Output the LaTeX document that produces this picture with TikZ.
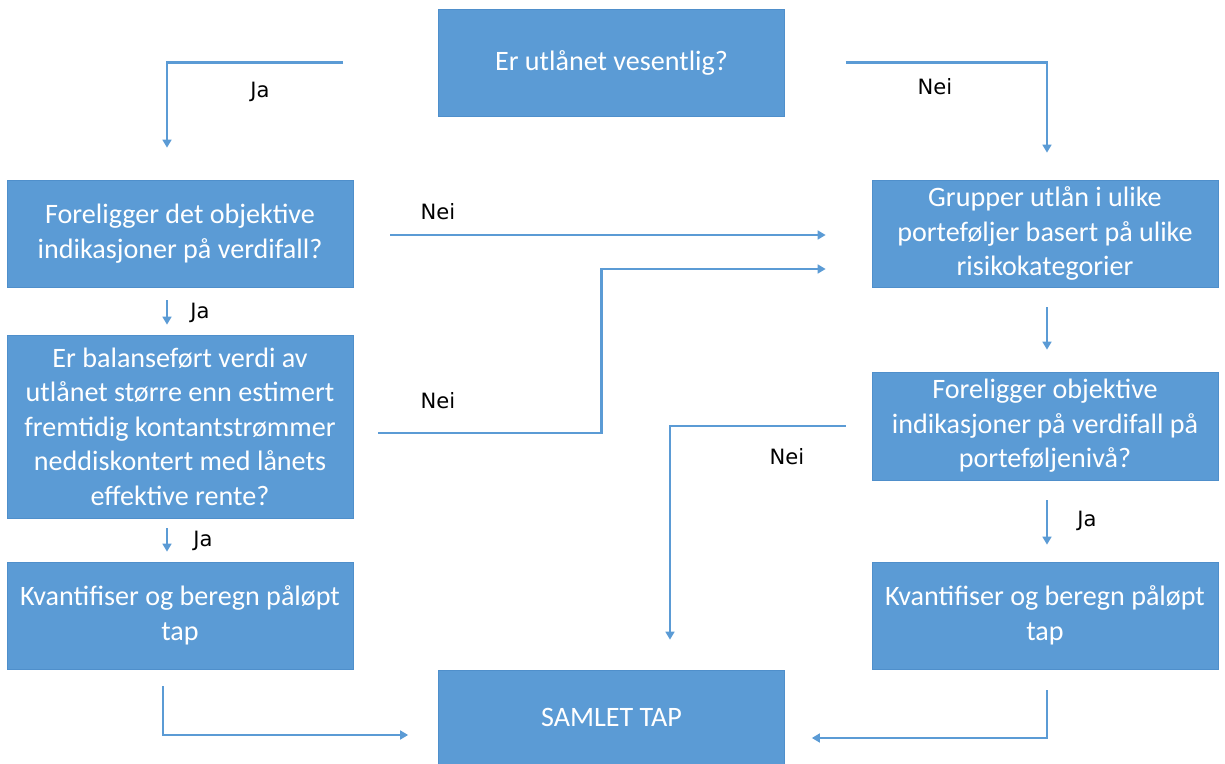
\documentclass[tikz,border=0pt]{standalone}
\usepackage{fontspec}
\setmainfont{Carlito}
\newfontfamily\labfont{DejaVu Sans}
\usetikzlibrary{arrows.meta,calc}
\definecolor{boxblue}{HTML}{5B9BD5}
\definecolor{boxedge}{HTML}{4F8FCB}
\begin{document}
\begin{tikzpicture}[x=0.02cm,y=-0.02cm,
  box/.style={draw=boxedge,line width=0.4pt,fill=boxblue,text=white,align=center,
    minimum width=346*0.02cm,inner sep=2pt,font=\fontsize{16}{19.6}\selectfont},
  arr/.style={draw=boxblue,line width=1.4pt,-{Triangle[length=4.5pt,width=5pt]}},
  lab/.style={font=\labfont\fontsize{12}{14}\selectfont,text=black}]
\useasboundingbox (0,0) rectangle (1225,764);
\node[box,minimum height=107*0.02cm] (top) at (611.5,62.5) {Er utlånet vesentlig?};
\node[box,minimum height=107*0.02cm] (L1) at (180,233.5) {Foreligger det objektive\\indikasjoner på verdifall?};
\node[box,minimum height=183*0.02cm] (L2) at (180,426.5) {Er balanseført verdi av\\utlånet større enn estimert\\fremtidig kontantstrømmer\\neddiskontert med lånets\\effektive rente?};
\node[box,minimum height=107*0.02cm] (L3) at (180,615.5) {Kvantifiser og beregn påløpt\\tap};
\node[box,minimum height=107*0.02cm] (R1) at (1045,233.5) {Grupper utlån i ulike\\porteføljer basert på ulike\\risikokategorier};
\node[box,minimum height=108*0.02cm] (R2) at (1045,426) {Foreligger objektive\\indikasjoner på verdifall på\\porteføljenivå?};
\node[box,minimum height=107*0.02cm] (R3) at (1045,615.5) {Kvantifiser og beregn påløpt\\tap};
\node[box,minimum height=94*0.02cm] (B) at (611.5,717) {SAMLET TAP};
% connectors
\draw[arr] ($(top.west)+(-95,0)$) -| ($(L1.north)+(-13,-32)$);
\draw[arr] ($(top.east)+(61,0)$) -| ($(R1.north)+(2,-27)$);
\draw[arr] ($(L1.south)+(-13,13)$) -- ($(L2.north)+(-13,-10)$);
\draw[arr] ($(L1.east)+(37,1.5)$) -- ($(R1.west)+(-46,1.5)$);
\draw[arr] ($(L2.east)+(25,6.5)$) -- ($(L2.east)+(248,6.5)$) |- ($(R1.west)+(-46,35.5)$);
\draw[arr] ($(L2.south)+(-13,10)$) -- ($(L3.north)+(-13,-10)$);
\draw[arr] ($(R1.south)+(2,20)$) -- ($(R2.north)+(2,-22)$);
\draw[arr] ($(R2.west)+(-26,0)$) -| ($(B.north)+(58.5,-30)$);
\draw[arr] ($(R2.south)+(2,20)$) -- ($(R3.north)+(2,-17)$);
\draw[arr] ($(L3.south)+(-17,17)$) |- ($(B.west)+(-30,18)$);
\draw[arr] ($(R3.south)+(2,21)$) |- ($(B.east)+(27,21)$);
% labels
\node[lab] (j1) at (260,92) {Ja};
\node[lab] (n1) at (935,87) {Nei};
\node[lab] (j2) at (200,313) {Ja};
\node[lab] (n2) at (438,212) {Nei};
\node[lab] (n3) at (438,401) {Nei};
\node[lab] (j3) at (203,541) {Ja};
\node[lab] (n4) at (787,457) {Nei};
\node[lab] (j4) at (1087,521) {Ja};
\end{tikzpicture}
\end{document}
